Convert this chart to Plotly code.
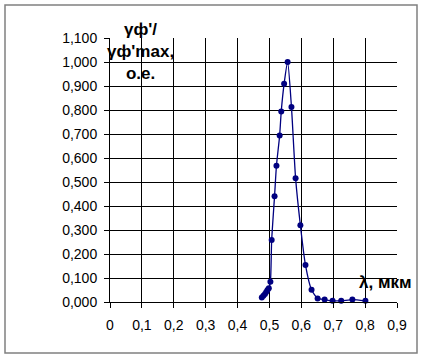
import plotly.graph_objects as go

wavelength = [0.476, 0.481, 0.486, 0.490, 0.494, 0.498, 0.503, 0.507, 0.516, 0.522,
              0.532, 0.537, 0.546, 0.557, 0.569, 0.582, 0.597, 0.613, 0.632, 0.651,
              0.673, 0.698, 0.725, 0.760, 0.801]
ratio = [0.019, 0.026, 0.033, 0.042, 0.050, 0.057, 0.084, 0.258, 0.441, 0.568,
         0.694, 0.794, 0.909, 1.000, 0.813, 0.516, 0.320, 0.154, 0.051, 0.015,
         0.010, 0.005, 0.005, 0.010, 0.005]

x_ticks = [0, 0.1, 0.2, 0.3, 0.4, 0.5, 0.6, 0.7, 0.8, 0.9]
x_labels = ["0", "0,1", "0,2", "0,3", "0,4", "0,5", "0,6", "0,7", "0,8", "0,9"]
y_ticks = [i / 10 for i in range(12)]
y_labels = [("%.3f" % v).replace(".", ",") for v in y_ticks]

font = "Liberation Sans, Arial, sans-serif"

fig = go.Figure()
fig.add_trace(go.Scatter(
    x=wavelength, y=ratio, mode="lines+markers",
    line=dict(color="#000080", width=1.3, shape="spline", smoothing=0.6),
    marker=dict(color="#000080", size=6),
    showlegend=False, cliponaxis=False,
))

fig.update_layout(
    width=423, height=360,
    margin=dict(l=110, r=26, t=38, b=58),
    paper_bgcolor="white", plot_bgcolor="white",
    font=dict(family=font, size=14, color="black"),
    xaxis=dict(range=[0, 0.9], tickvals=x_ticks, ticktext=x_labels,
               showgrid=True, gridcolor="#000000", gridwidth=1,
               showline=True, linecolor="#000000", linewidth=1,
               ticks="outside", ticklen=5, tickcolor="#000000",
               ticklabelstandoff=5, zeroline=False, fixedrange=True,
               automargin=False),
    yaxis=dict(range=[0, 1.1], tickvals=y_ticks, ticktext=y_labels,
               showgrid=True, gridcolor="#000000", gridwidth=1,
               showline=True, linecolor="#000000", linewidth=1,
               ticks="outside", ticklen=5, tickcolor="#000000",
               ticklabelstandoff=4, zeroline=False, fixedrange=True,
               automargin=False),
    shapes=[dict(type="rect", xref="paper", yref="paper",
                 x0=-105/287, x1=(417-110)/287, y0=-(353-302)/264, y1=(302-5)/264,
                 line=dict(color="#808080", width=1.5))],
    annotations=[
        dict(text="<b>γф'/<br>γф'max,<br>о.е.</b>", xref="paper", yref="paper",
             x=(140-110)/287, y=(302-52)/264, xanchor="center", yanchor="middle",
             showarrow=False, font=dict(family=font, size=17, color="black"),
             align="center"),
        dict(text="<b>λ, мкм</b>", xref="paper", yref="paper",
             x=(385-110)/287, y=(302-282)/264, xanchor="center", yanchor="middle",
             showarrow=False, font=dict(family=font, size=17, color="black")),
    ],
)

fig.write_html("out.html", config={"displayModeBar": False},
               post_script="document.body.style.margin='0';")
